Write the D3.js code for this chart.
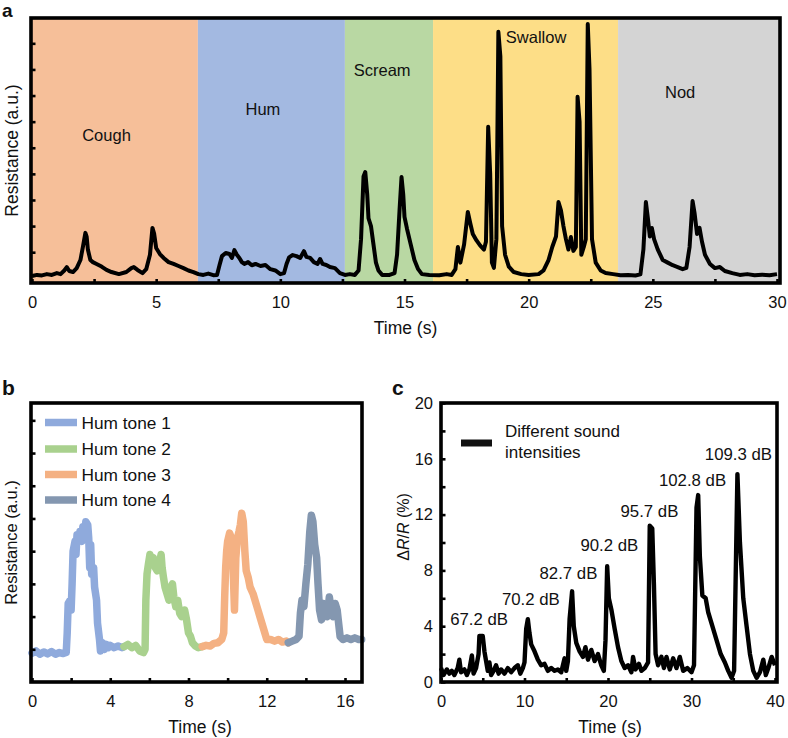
<!DOCTYPE html>
<html><head><meta charset="utf-8">
<script src="https://cdn.jsdelivr.net/npm/d3@7"></script>
<style>
html,body{margin:0;padding:0;background:#fff;}
svg text{font-family:"Liberation Sans",Arial,Helvetica,sans-serif;fill:#111;}
</style></head>
<body><svg id="chart" width="788" height="738"></svg>
<script>
// ---------- Panel a data ----------
const bandNames = ["Cough","Hum","Scream","Swallow","Nod"];
const bandStarts = [0, 6.68, 12.6, 16.15, 23.6];
const bandEnds = [6.68, 12.6, 16.15, 23.6, 30.12];
const bandColors = ["#F6BF99","#A3B9E1","#B9D8A3","#FDDE87","#D4D4D4"];
const bandLabelT = [3.0, 9.3, 14.1, 20.3, 26.1];
const bandLabelV = [5.25, 6.25, 7.75, 9.0, 6.9];
const timeA = [0.0,0.2,0.4,0.6,0.8,1.0,1.15,1.3,1.4,1.5,1.65,1.8,1.95,2.05,2.15,2.2,2.25,2.35,2.45,2.6,2.8,3.0,3.2,3.5,3.8,4.0,4.1,4.25,4.45,4.6,4.75,4.85,4.92,5.0,5.15,5.3,5.5,5.7,5.9,6.1,6.3,6.5,6.7,6.9,7.1,7.3,7.45,7.55,7.65,7.8,7.95,8.05,8.15,8.25,8.35,8.45,8.55,8.7,8.85,9.0,9.2,9.4,9.6,9.8,10.0,10.15,10.25,10.35,10.5,10.65,10.8,10.95,11.05,11.2,11.35,11.5,11.6,11.7,11.85,12.0,12.2,12.4,12.6,12.8,13.0,13.15,13.25,13.35,13.42,13.5,13.55,13.65,13.75,13.85,13.95,14.1,14.4,14.6,14.7,14.8,14.88,14.95,15.0,15.1,15.25,15.4,15.55,15.7,16.0,16.4,16.7,16.9,17.05,17.15,17.25,17.4,17.55,17.65,17.75,17.9,18.05,18.2,18.28,18.37,18.45,18.52,18.6,18.7,18.78,18.86,18.93,19.05,19.2,19.4,19.7,20.0,20.4,20.6,20.8,20.95,21.1,21.2,21.3,21.4,21.5,21.6,21.7,21.8,21.9,21.97,22.05,22.12,22.22,22.3,22.38,22.45,22.55,22.7,22.9,23.1,23.4,23.7,24.0,24.3,24.5,24.62,24.72,24.8,24.88,24.96,25.05,25.2,25.4,25.6,25.8,26.0,26.2,26.35,26.48,26.6,26.68,26.78,26.88,26.98,27.1,27.3,27.5,27.7,27.9,28.2,28.5,28.8,29.1,29.4,29.7,30.0];
const resA = [0.09,0.13,0.11,0.16,0.13,0.2,0.16,0.3,0.43,0.28,0.24,0.39,0.7,1.2,1.74,1.6,1.1,0.7,0.62,0.55,0.45,0.32,0.24,0.16,0.24,0.39,0.43,0.32,0.2,0.35,0.9,1.93,1.7,1.16,0.93,0.78,0.62,0.55,0.47,0.39,0.3,0.24,0.16,0.13,0.18,0.12,0.13,0.5,0.85,0.97,0.93,0.78,1.08,0.9,0.78,0.62,0.55,0.62,0.5,0.55,0.47,0.51,0.35,0.3,0.16,0.2,0.55,0.8,0.89,0.85,0.78,1.04,0.82,0.78,0.62,0.55,0.74,0.55,0.51,0.43,0.39,0.2,0.13,0.16,0.13,0.3,1.5,3.9,4.07,3.2,2.3,2.0,1.3,0.6,0.3,0.13,0.13,0.2,0.9,2.6,3.88,3.2,2.35,1.9,1.3,0.7,0.35,0.16,0.13,0.12,0.16,0.13,0.35,1.2,0.6,1.3,2.54,2.1,1.7,1.45,1.25,1.1,1.4,5.8,4.0,0.6,0.4,1.5,9.44,8.5,2.0,0.9,0.45,0.24,0.16,0.13,0.16,0.3,0.7,1.2,1.6,2.92,2.6,2.0,1.5,1.1,1.58,1.05,1.2,6.95,6.0,0.9,1.2,1.5,9.74,8.0,1.5,0.6,0.3,0.2,0.16,0.12,0.13,0.11,0.15,1.1,2.92,2.3,1.6,1.93,1.5,1.1,0.7,0.6,0.5,0.43,0.35,0.4,1.2,2.96,2.5,1.7,1.93,1.4,0.9,0.55,0.39,0.43,0.28,0.2,0.13,0.16,0.12,0.14,0.12,0.16];
const ticksAx = [0,5,10,15,20,25,30];

// ---------- Panel b data ----------
const toneNames = ["Hum tone 1","Hum tone 2","Hum tone 3","Hum tone 4"];
const toneColors = ["#8FAADC","#A9D18E","#F4B183","#8497B0"];
const tone1T = [0.0,0.2,0.4,0.6,0.8,1.0,1.2,1.4,1.6,1.75,1.8,1.85,1.95,2.0,2.05,2.1,2.2,2.25,2.3,2.4,2.45,2.55,2.6,2.7,2.75,2.85,2.9,2.95,3.0,3.05,3.15,3.2,3.3,3.35,3.45,3.5,3.6,3.7,3.8,3.9,4.0,4.2,4.4,4.6,4.7];
const tone1V = [0.88,0.95,0.85,0.92,0.86,0.93,0.85,0.9,0.87,0.9,1.5,2.4,2.5,2.2,3.0,4.0,4.3,3.9,4.5,4.4,4.6,4.3,4.75,4.5,4.9,4.8,4.4,3.5,4.2,3.3,3.5,2.9,2.5,1.8,1.3,0.95,1.2,1.0,1.15,1.05,1.12,1.05,1.1,1.05,1.08];
const tone2T = [4.7,4.9,5.1,5.3,5.5,5.7,5.78,5.82,5.88,5.95,6.03,6.1,6.2,6.3,6.4,6.5,6.6,6.65,6.72,6.8,6.9,7.0,7.1,7.18,7.25,7.35,7.45,7.55,7.65,7.8,7.9,8.0,8.1,8.2,8.35,8.5,8.7];
const tone2V = [1.08,1.15,1.05,1.12,0.95,0.9,1.0,2.5,3.3,3.6,3.9,3.7,3.8,3.5,3.4,3.6,3.9,3.5,3.2,2.9,2.7,2.5,2.9,3.0,2.6,2.3,2.5,2.1,2.0,2.2,1.9,1.5,1.4,1.2,1.1,1.05,1.08];
const tone3T = [8.7,8.9,9.1,9.3,9.5,9.7,9.8,9.85,9.9,9.95,10.0,10.1,10.2,10.28,10.35,10.42,10.5,10.58,10.65,10.72,10.8,10.88,10.95,11.05,11.15,11.3,11.45,11.55,11.65,11.8,11.9,12.0,12.2,12.4,12.6,12.8,13.0,13.1];
const tone3V = [1.08,1.12,1.1,1.18,1.2,1.3,1.5,2.6,3.5,4.0,4.3,4.55,4.4,3.5,2.2,3.8,4.4,4.6,4.8,5.16,4.9,4.0,3.4,3.2,2.9,2.7,2.4,2.2,2.0,1.7,1.5,1.3,1.3,1.25,1.3,1.22,1.25,1.2];
const tone4T = [13.1,13.3,13.5,13.65,13.72,13.8,13.9,14.0,14.1,14.2,14.28,14.36,14.45,14.55,14.62,14.7,14.8,14.9,15.0,15.1,15.2,15.3,15.4,15.5,15.6,15.75,15.9,16.1,16.3,16.5,16.7,16.85];
const tone4V = [1.2,1.25,1.3,1.4,2.1,2.5,2.3,3.0,3.6,4.6,5.1,4.9,4.2,3.8,3.0,2.2,1.9,2.4,2.2,2.0,2.6,2.2,2.0,2.4,2.2,1.39,1.3,1.35,1.3,1.35,1.3,1.3];
const ticksBx = [0,4,8,12,16];

// ---------- Panel c data ----------
const timeC = [0,0.3,0.7,1.0,1.3,1.6,2.0,2.2,2.4,2.8,3.1,3.4,3.7,3.9,4.2,4.5,4.6,5.0,5.2,5.4,5.6,5.8,6.0,6.3,6.6,6.9,7.2,7.6,8.0,8.4,8.8,9.2,9.5,9.8,10.0,10.2,10.4,10.6,10.8,11.2,11.6,12.0,12.4,12.8,13.2,13.6,14.0,14.4,14.8,15.0,15.2,15.4,15.7,15.9,16.2,16.6,17.0,17.3,17.6,18.0,18.4,18.8,19.2,19.5,19.7,19.9,20.1,20.4,20.8,21.2,21.6,22.0,22.4,22.8,23.0,23.3,23.7,24.0,24.4,24.8,25.0,25.3,25.5,25.7,26.0,26.4,26.7,27.0,27.4,27.8,28.2,28.6,29.0,29.5,30.0,30.3,30.6,30.8,31.0,31.3,31.7,32.0,32.5,33.0,33.5,34.0,34.4,34.8,35.1,35.5,35.8,36.2,36.6,37.0,37.4,37.8,38.2,38.6,38.9,39.2,39.6,40.0];
const dRC = [1.0,0.5,0.9,0.6,0.8,0.5,1.0,1.6,0.7,0.9,0.5,0.9,1.9,0.6,1.0,2.0,3.3,3.3,2.2,1.5,0.8,1.4,0.5,0.8,1.2,0.6,0.9,0.6,1.0,0.7,1.0,1.2,0.6,1.0,1.4,3.8,4.5,3.5,2.7,2.2,1.6,1.2,1.3,0.8,1.0,0.8,0.9,0.7,1.7,0.8,1.5,4.5,6.5,4.0,2.8,2.2,1.8,2.5,1.6,2.3,1.5,2.0,1.2,0.8,3.0,8.3,6.0,5.2,3.8,2.5,1.5,1.0,1.2,0.7,1.8,0.9,1.3,0.8,1.0,1.4,11.2,11.0,7.0,2.0,1.2,1.8,1.0,1.8,0.9,1.7,1.0,1.8,0.8,1.0,0.7,1.2,12.5,13.4,9.0,6.2,6.0,5.0,4.0,3.0,2.0,1.4,0.8,0.3,0.8,14.9,10.0,6.0,4.0,2.0,0.8,0.3,0.7,1.6,0.5,1.0,1.8,1.2];
const dbLabels = ["67.2 dB","70.2 dB","82.7 dB","90.2 dB","95.7 dB","102.8 dB","109.3 dB"];
const dbLabelT = [1.1,7.3,11.8,16.7,21.5,26.1,31.6];
const dbLabelV = [4.1,5.5,7.35,9.4,11.8,14.05,15.9];
const ticksCx = [0,10,20,30,40];
const ticksCy = [0,4,8,12,16,20];

// ---------- drawing ----------
const svg = d3.select("#chart");
const FONT = 'Liberation Sans, Arial, sans-serif';

function frame(g, x0, y0, x1, y1){
  g.append("rect").attr("x",x0).attr("y",y0).attr("width",x1-x0).attr("height",y1-y0)
    .attr("fill","none").attr("stroke","#000").attr("stroke-width",3.6);
}
function styleAxis(sel, fs){
  sel.select(".domain").remove();
  sel.selectAll(".tick line").attr("stroke","#000").attr("stroke-width",2.6);
  sel.selectAll(".tick text").attr("font-size",fs).attr("fill","#111").attr("font-family",FONT);
}

// Panel a
{
  const L=31, R=780, T=18, B=283;
  const x = d3.scaleLinear().domain([0,30]).range([32,777]);
  const y = d3.scaleLinear().domain([-0.18,9.97]).range([B,T]);
  const g = svg.append("g");
  bandNames.forEach((n,i)=>{
    const xs = i===0 ? L : x(bandStarts[i]);
    const xe = i===bandNames.length-1 ? R : x(bandEnds[i]);
    g.append("rect").attr("x",xs).attr("y",T).attr("width",xe-xs).attr("height",B-T).attr("fill",bandColors[i]);
  });
  bandNames.forEach((n,i)=>{
    g.append("text").attr("x",x(bandLabelT[i])).attr("y",y(bandLabelV[i])).attr("text-anchor","middle")
      .attr("font-size",16.5).text(n);
  });
  const line = d3.line().x((d,i)=>x(timeA[i])).y((d,i)=>y(resA[i]));
  g.append("path").datum(resA).attr("d",line).attr("fill","none").attr("stroke","#000")
    .attr("stroke-width",4).attr("stroke-linejoin","round");
  const xa = g.append("g").attr("transform",`translate(0,${B})`)
    .call(d3.axisBottom(x).tickValues(d3.range(0,30.01,2.5)).tickSize(-4).tickPadding(13)
      .tickFormat(d=> ticksAx.includes(d) ? d : ""));
  styleAxis(xa,16.5);
  const ya = g.append("g").attr("transform",`translate(${L},0)`)
    .call(d3.axisLeft(y).tickValues(d3.range(1,10)).tickSize(-4.5).tickFormat(""));
  styleAxis(ya,16);
  frame(g,L,T,R,B);
  g.append("text").attr("x",(L+R)/2).attr("y",334).attr("text-anchor","middle").attr("font-size",17.5).text("Time (s)");
  g.append("text").attr("transform",`translate(18,${(T+B)/2}) rotate(-90)`).attr("text-anchor","middle").attr("font-size",17.5).text("Resistance (a.u.)");
  g.append("text").attr("x",2).attr("y",17).attr("font-size",19).attr("font-weight","bold").text("a");
}

// Panel b
{
  const L=31, R=362, T=403, B=682;
  const x = d3.scaleLinear().domain([0,16]).range([32,345]);
  const y = d3.scaleLinear().domain([0,8.53]).range([B,T]);
  const g = svg.append("g");
  const series = [[tone1T,tone1V],[tone2T,tone2V],[tone3T,tone3V],[tone4T,tone4V]];
  series.forEach((s,k)=>{
    const line = d3.line().x((d,i)=>x(s[0][i])).y((d,i)=>y(s[1][i]));
    g.append("path").datum(s[1]).attr("d",line).attr("fill","none").attr("stroke",toneColors[k])
      .attr("stroke-width",7.5).attr("stroke-linejoin","round").attr("stroke-linecap","round");
  });
  const xa = g.append("g").attr("transform",`translate(0,${B})`)
    .call(d3.axisBottom(x).tickValues(d3.range(0,16.01,2)).tickSize(-4).tickPadding(13)
      .tickFormat(d=> ticksBx.includes(d) ? d : ""));
  styleAxis(xa,16.5);
  const ya = g.append("g").attr("transform",`translate(${L},0)`)
    .call(d3.axisLeft(y).tickValues(d3.range(1,9)).tickSize(-4.5).tickFormat(""));
  styleAxis(ya,16);
  frame(g,L,T,R,B);
  // legend
  toneNames.forEach((n,i)=>{
    const ly = [422.5,449,474.5,500][i];
    g.append("line").attr("x1",45).attr("x2",77).attr("y1",ly).attr("y2",ly)
      .attr("stroke",toneColors[i]).attr("stroke-width",7.5);
    g.append("text").attr("x",81.5).attr("y",ly+6).attr("font-size",17.3).text(n);
  });
  g.append("text").attr("x",200).attr("y",733).attr("text-anchor","middle").attr("font-size",17.5).text("Time (s)");
  g.append("text").attr("transform",`translate(17,${(T+B)/2}) rotate(-90)`).attr("text-anchor","middle").attr("font-size",16.5).text("Resistance (a.u.)");
  g.append("text").attr("x",2).attr("y",395).attr("font-size",21).attr("font-weight","bold").text("b");
}

// Panel c
{
  const L=441, R=777, T=403, B=682;
  const x = d3.scaleLinear().domain([0,40]).range([441,775]);
  const y = d3.scaleLinear().domain([0,20]).range([B,T]);
  const g = svg.append("g");
  const line = d3.line().x((d,i)=>x(timeC[i])).y((d,i)=>y(dRC[i]));
  g.append("path").datum(dRC).attr("d",line).attr("fill","none").attr("stroke","#000")
    .attr("stroke-width",4.4).attr("stroke-linejoin","round");
  const xa = g.append("g").attr("transform",`translate(0,${B})`)
    .call(d3.axisBottom(x).tickValues(d3.range(0,40.01,5)).tickSize(-4).tickPadding(13)
      .tickFormat(d=> ticksCx.includes(d) ? d : ""));
  styleAxis(xa,16.5);
  const ya = g.append("g").attr("transform",`translate(${L},0)`)
    .call(d3.axisLeft(y).tickValues(d3.range(0,20.01,2)).tickSize(-4.5).tickPadding(8)
      .tickFormat(d=> ticksCy.includes(d) ? d : ""));
  styleAxis(ya,16.5);
  frame(g,L,T,R,B);
  dbLabels.forEach((t,i)=>{
    g.append("text").attr("x",x(dbLabelT[i])).attr("y",y(dbLabelV[i])).attr("font-size",16.8).text(t);
  });
  g.append("line").attr("x1",461).attr("x2",492).attr("y1",443).attr("y2",443).attr("stroke","#111").attr("stroke-width",7);
  g.append("text").attr("x",505).attr("y",437).attr("font-size",17).text("Different sound");
  g.append("text").attr("x",505).attr("y",458).attr("font-size",17).text("intensities");
  g.append("text").attr("x",610).attr("y",733).attr("text-anchor","middle").attr("font-size",17.5).text("Time (s)");
  const yl = g.append("text").attr("transform",`translate(409,527) rotate(-90)`).attr("text-anchor","middle").attr("font-size",16);
  yl.append("tspan").text("Δ");
  yl.append("tspan").attr("font-style","italic").text("R");
  yl.append("tspan").text("/");
  yl.append("tspan").attr("font-style","italic").text("R");
  yl.append("tspan").text(" (%)");
  g.append("text").attr("x",392).attr("y",395).attr("font-size",21).attr("font-weight","bold").text("c");
}
</script></body></html>
